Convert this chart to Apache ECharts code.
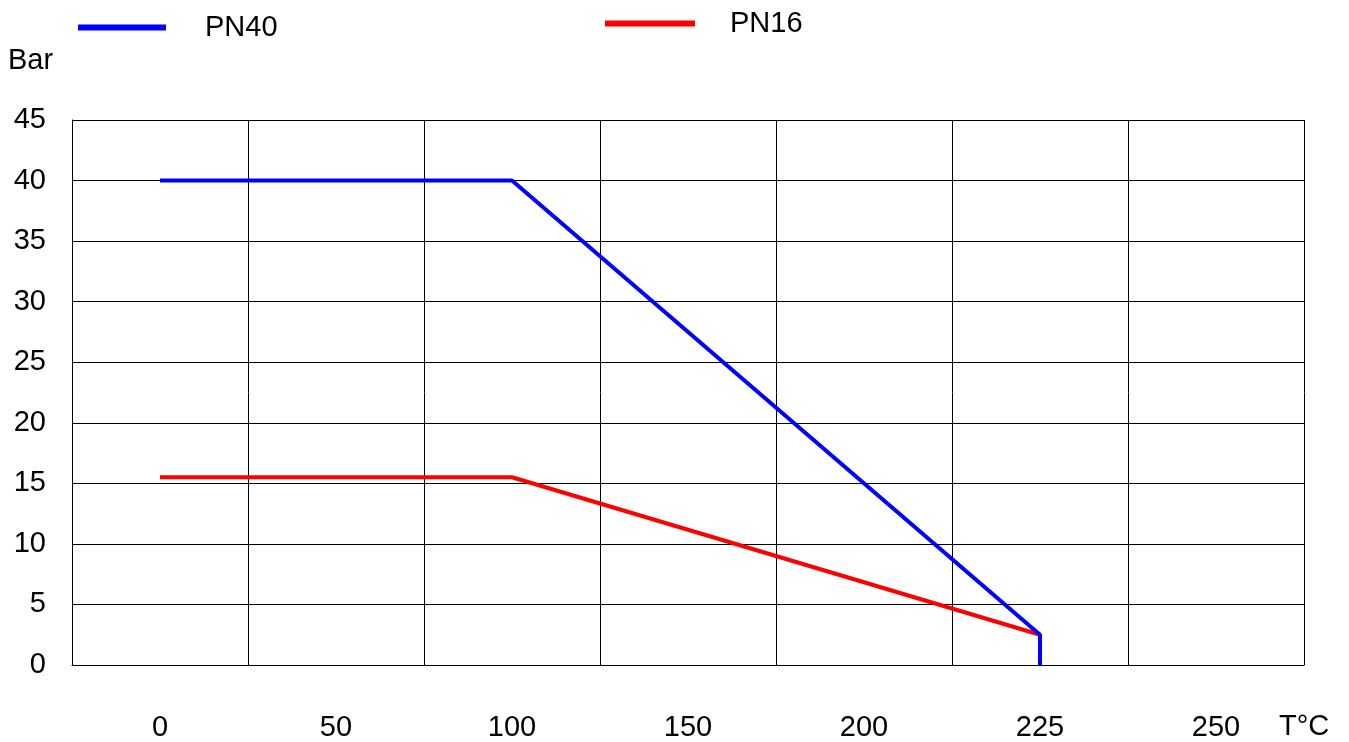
<!DOCTYPE html>
<html>
<head>
<meta charset="utf-8">
<script src="https://cdn.jsdelivr.net/npm/echarts@6/dist/echarts.min.js"></script>
<style>html,body{margin:0;padding:0;background:#fff;}#c{width:1349px;height:742px;}</style>
</head>
<body>
<div id="c"></div>
<script>
var categories = ['0', '50', '100', '150', '200', '225', '250'];
var pn40 = [['0', 40], ['100', 40], ['225', 2.5], ['225', 0]];
var pn16 = [['0', 15.5], ['100', 15.5], ['225', 2.5]];
var yTicks = { min: 0, max: 45, interval: 5 };

var font = '"Liberation Sans", Arial, sans-serif';
var fs = 29;
var chart = echarts.init(document.getElementById('c'), null, { renderer: 'canvas' });
chart.setOption({
  animation: false,
  backgroundColor: '#fff',
  grid: { left: 72, right: 45, top: 120, bottom: 77, containLabel: false },
  legend: [
    { data: ['PN40'], left: 73, top: 8, icon: 'rect', itemWidth: 88, itemHeight: 6, itemGap: 0,
      textStyle: { fontFamily: font, fontSize: fs, color: '#000', padding: [2, 0, 0, 34] } },
    { data: ['PN16'], left: 600, top: 4, icon: 'rect', itemWidth: 90, itemHeight: 6, itemGap: 0,
      textStyle: { fontFamily: font, fontSize: fs, color: '#000', padding: [0, 0, 0, 30] } }
  ],
  graphic: [
    { type: 'text', left: 8, top: 46, style: { text: 'Bar', font: fs + 'px ' + font, fill: '#000' } },
    { type: 'text', left: 1279, top: 712, style: { text: 'T°C', font: fs + 'px ' + font, fill: '#000' } }
  ],
  xAxis: {
    type: 'category',
    data: categories,
    boundaryGap: true,
    axisLine: { show: true, lineStyle: { color: '#000', width: 1 } },
    axisTick: { show: false },
    axisLabel: { margin: 48, fontFamily: font, fontSize: fs, color: '#000', interval: 0 },
    splitLine: { show: true, interval: 0, lineStyle: { color: '#000', width: 1 } }
  },
  yAxis: {
    type: 'value',
    min: yTicks.min, max: yTicks.max, interval: yTicks.interval,
    axisLine: { show: true, lineStyle: { color: '#000', width: 1 } },
    axisTick: { show: false },
    axisLabel: { margin: 26, fontFamily: font, fontSize: fs, color: '#000', padding: [5, 0, 0, 0] },
    splitLine: { show: true, lineStyle: { color: '#000', width: 1 } }
  },
  series: [
    { name: 'PN16', type: 'line', data: pn16, symbol: 'none', color: '#ff0000',
      lineStyle: { color: '#ff0000', width: 4 } },
    { name: 'PN40', type: 'line', data: pn40, symbol: 'none', color: '#0000ff',
      lineStyle: { color: '#0000ff', width: 4 } }
  ]
});
</script>
</body>
</html>
